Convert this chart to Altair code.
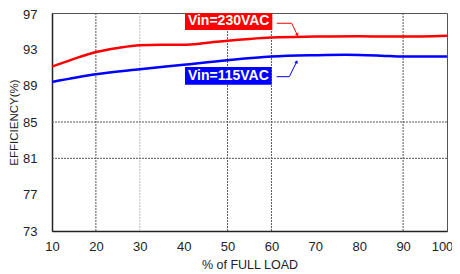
import altair as alt
import pandas as pd

# Curve data (% of full load, efficiency %)
red_load = [10, 15, 20, 25, 30, 35, 40, 45, 50, 55, 60, 70, 80, 90, 100]
red_eff = [91.1, 91.95, 92.7, 93.15, 93.45, 93.5, 93.5, 93.7, 93.95, 94.15, 94.3, 94.4, 94.45, 94.4, 94.5]
blue_load = [10, 20, 30, 40, 50, 60, 70, 77, 85, 90, 100]
blue_eff = [89.4, 90.25, 90.8, 91.3, 91.8, 92.2, 92.35, 92.4, 92.3, 92.2, 92.2]

x_ticks = [10, 20, 30, 40, 50, 60, 70, 80, 90, 100]
y_ticks = [73, 77, 81, 85, 89, 93, 97]

# grid lines that appear in the reference
vgrid_dark = [20, 50, 60, 90]
vgrid_light = [30]
hgrid = [85, 81]

# annotation labels
lab_text = ["Vin=230VAC", "Vin=115VAC"]
lab_color = ["#ff0000", "#0000ff"]
lab_x = [50.26, 50.2]
lab_y = [96.12, 90.06]
box_x1 = [40.3, 40.3]
box_x2 = [60.2, 60.05]
box_y1 = [97.0, 91.06]
box_y2 = [95.13, 89.1]

# arrow polylines
red_arrow_x = [61.2, 64.6, 65.9]
red_arrow_y = [95.87, 95.87, 94.58]
blue_arrow_x = [61.2, 64.07, 65.75]
blue_arrow_y = [89.99, 89.99, 91.64]

xs = alt.Scale(domain=[10, 100], nice=False, zero=False)
ys = alt.Scale(domain=[73, 97], nice=False, zero=False)

FONT = "Liberation Sans"

AX_X = alt.Axis(values=x_ticks, title="% of FULL LOAD", labelPadding=9, titlePadding=5,
                titleFontSize=12.5, labelOverlap=False, labelFlush=False, labelBound=False,
                labelOffset={"condition": {"test": "datum.value == 100", "value": -5}, "value": 0})
AX_Y = alt.Axis(values=y_ticks, title="EFFICIENCY(%)", labelPadding=15, titlePadding=3,
                titleFontSize=11.5, labelOverlap=False, labelFlush=False, labelBound=False,
                labelOffset={"condition": {"test": "datum.value == 97", "value": 1}, "value": 0})


def X(f):
    return alt.X(f, scale=xs, axis=AX_X)


def Y(f):
    return alt.Y(f, scale=ys, axis=AX_Y)


df_red = pd.DataFrame({"x": red_load, "y": red_eff})
df_blue = pd.DataFrame({"x": blue_load, "y": blue_eff})

vdark = alt.Chart(pd.DataFrame({"x": vgrid_dark})).mark_rule(color="#555", strokeDash=[2, 1], strokeWidth=1).encode(
    x=X("x:Q"))
vlight = alt.Chart(pd.DataFrame({"x": vgrid_light})).mark_rule(color="#bbb", strokeDash=[2, 1], strokeWidth=1).encode(
    x=X("x:Q"))
hg = alt.Chart(pd.DataFrame({"y": hgrid})).mark_rule(color="#555", strokeDash=[2, 1], strokeWidth=1).encode(
    y=Y("y:Q"))

red_line = alt.Chart(df_red).mark_line(color="#ff0000", strokeWidth=2.5, interpolate="monotone").encode(
    x=X("x:Q"), y=Y("y:Q"))
blue_line = alt.Chart(df_blue).mark_line(color="#0000ff", strokeWidth=2.5, interpolate="monotone").encode(
    x=X("x:Q"), y=Y("y:Q"))

df_lab = pd.DataFrame({"t": lab_text, "c": lab_color, "x": lab_x, "y": lab_y,
                       "x1": box_x1, "x2": box_x2, "y1": box_y1, "y2": box_y2})
boxes = alt.Chart(df_lab).mark_rect(clip=False).encode(
    x=X("x1:Q"), x2="x2:Q", y=Y("y1:Q"), y2="y2:Q",
    color=alt.Color("c:N", scale=None))
texts = alt.Chart(df_lab).mark_text(color="white", fontWeight="bold", fontSize=14, font=FONT,
                                    baseline="middle", align="center").encode(
    x=X("x:Q"), y=Y("y:Q"), text="t:N")

df_ra = pd.DataFrame({"x": red_arrow_x, "y": red_arrow_y, "o": [0, 1, 2]})
df_ba = pd.DataFrame({"x": blue_arrow_x, "y": blue_arrow_y, "o": [0, 1, 2]})
red_arrow = alt.Chart(df_ra).mark_line(color="#ff0000", strokeWidth=1).encode(
    x=X("x:Q"), y=Y("y:Q"), order="o:Q")
blue_arrow = alt.Chart(df_ba).mark_line(color="#0000ff", strokeWidth=1).encode(
    x=X("x:Q"), y=Y("y:Q"), order="o:Q")
red_head = alt.Chart(df_ra.tail(1)).mark_point(shape="triangle-down", filled=True, size=14, color="#ff0000",
                                                angle=334, opacity=1).encode(
    x=X("x:Q"), y=Y("y:Q"))
blue_head = alt.Chart(df_ba.tail(1)).mark_point(shape="triangle-up", filled=True, size=14, color="#0000ff",
                                                 angle=26, opacity=1).encode(
    x=X("x:Q"), y=Y("y:Q"))

chart = alt.layer(vlight, vdark, hg, red_line, blue_line, boxes, texts,
                  red_arrow, blue_arrow, red_head, blue_head).properties(
    width=395, height=218,
    autosize=alt.AutoSizeParams(type="none"),
    padding={"left": 44, "top": 5, "right": 5, "bottom": 43},
    background="white",
).configure_view(stroke="#555", strokeWidth=1).configure_axis(
    grid=False, ticks=False, labelFontSize=13, labelColor="#222", labelFont=FONT,
    titleFont=FONT, titleColor="#222", titleFontWeight="normal",
    domainColor="#222", domainWidth=1.5,
)

chart.save("out.html", embed_options={"renderer": "svg", "actions": False})
